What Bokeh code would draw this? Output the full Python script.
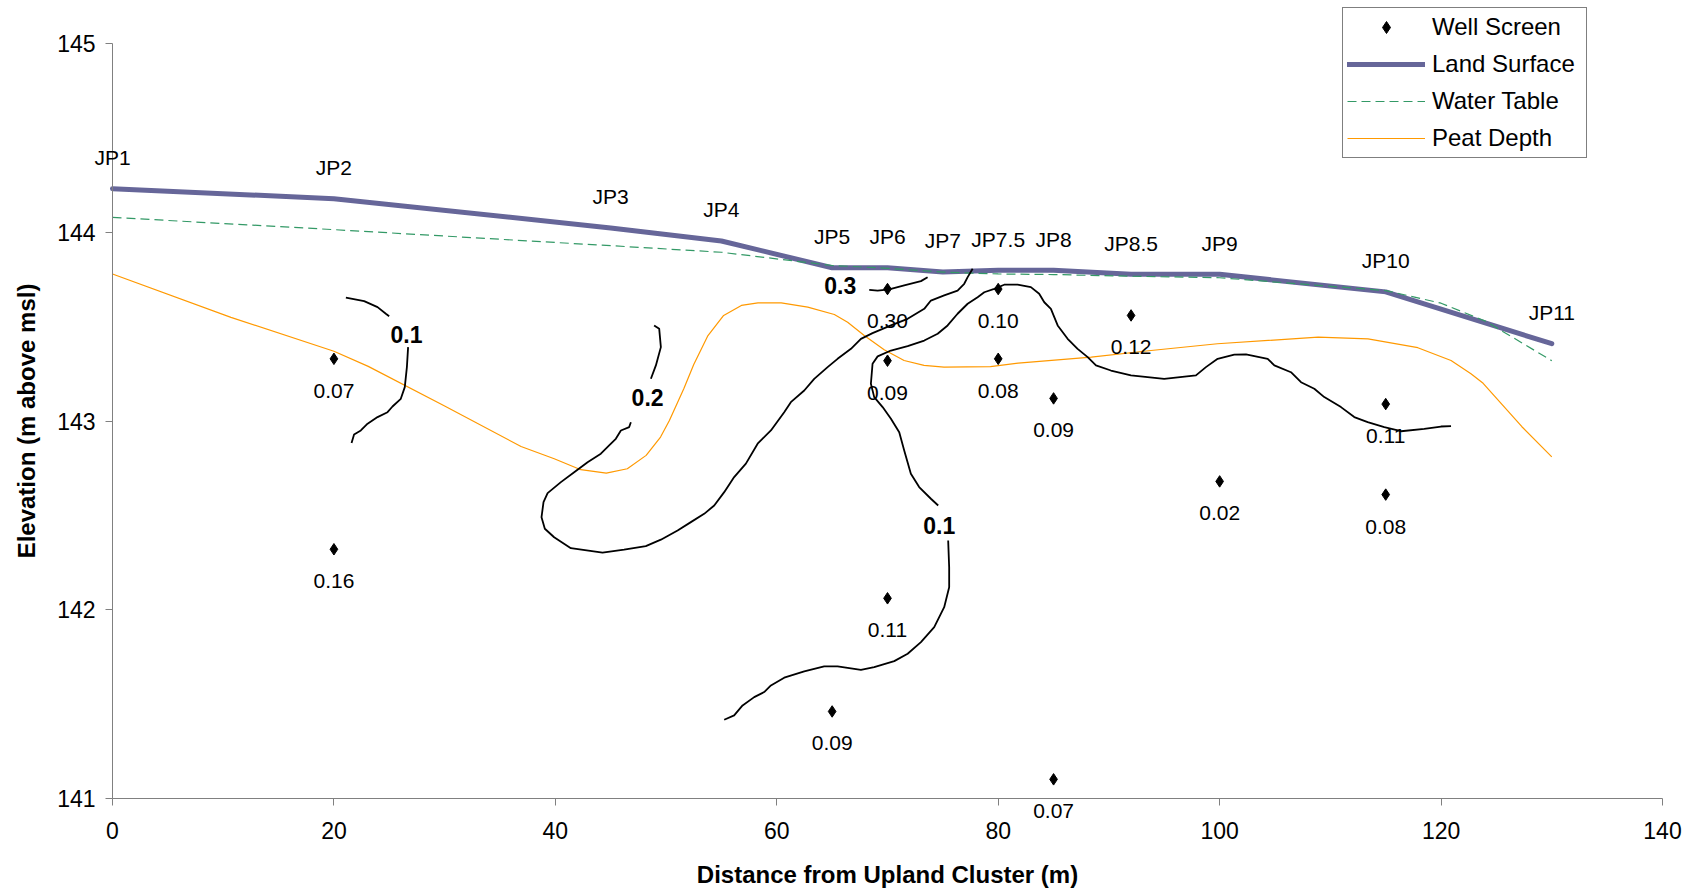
from bokeh.plotting import figure
from bokeh.models import (ColumnDataSource, LabelSet, Legend, LegendItem,
                          Range1d, FixedTicker)
from bokeh.core.properties import value
from bokeh.embed import file_html
from bokeh.resources import INLINE

FONT = "Liberation Sans"

# ---------------- data ----------------
x_ticks = [0, 20, 40, 60, 80, 100, 120, 140]
y_ticks = [141, 142, 143, 144, 145]

# Land surface (with piezometer nest names)
land_x = [0, 20, 45, 55, 65, 70, 75, 80, 85, 92, 100, 115, 130]
land_y = [144.232, 144.179, 144.024, 143.955, 143.813, 143.813, 143.791,
          143.800, 143.800, 143.778, 143.778, 143.685, 143.410]
land_names = ["JP1", "JP2", "JP3", "JP4", "JP5", "JP6", "JP7", "JP7.5",
              "JP8", "JP8.5", "JP9", "JP10", "JP11"]

# Water table
water_x = [0, 20, 45, 55, 65, 70, 75, 80, 85, 92, 100, 115, 120, 124, 130]
water_y = [144.08, 144.015, 143.93, 143.895, 143.825, 143.81, 143.79, 143.78,
           143.777, 143.768, 143.76, 143.692, 143.625, 143.53, 143.32]

# Peat depth
peat_x = [0, 10.7, 20, 23.1, 30, 36.9, 39.9, 42.3, 44.6, 46.5, 48.2, 49.5,
          50.3, 51.6, 52.5, 53.75, 55.2, 56.8, 58.3, 60.4, 62.8, 65.2, 66.4,
          67.9, 69.7, 71.5, 73.3, 75.1, 79.3, 81.8, 88.4, 93.8, 99.8, 108.9,
          113.4, 117.9, 120.9, 122.7, 123.8, 127.3, 130]
peat_y = [143.78, 143.55, 143.37, 143.29, 143.08, 142.865, 142.80, 142.742,
          142.724, 142.747, 142.818, 142.915, 143.003, 143.171, 143.30, 143.45,
          143.56, 143.613, 143.627, 143.627, 143.604, 143.565, 143.524, 143.454,
          143.378, 143.321, 143.295, 143.286, 143.289, 143.307, 143.339, 143.374,
          143.41, 143.445, 143.436, 143.389, 143.321, 143.251, 143.20, 142.97,
          142.81]

# Well screens and their values
well_x = [20, 20, 65, 70, 70, 70, 80, 80, 85, 85, 92, 100, 115, 115]
well_y = [143.33, 142.32, 141.46, 143.70, 143.32, 142.06, 143.70, 143.33,
          143.12, 141.10, 143.56, 142.68, 143.09, 142.61]
well_values = ["0.07", "0.16", "0.09", "0.30", "0.09", "0.11", "0.10", "0.08",
               "0.09", "0.07", "0.12", "0.02", "0.11", "0.08"]

# Contour 0.1 (left)
c01a_upper_x = [21.08, 22.73, 23.94, 24.69, 24.99]
c01a_upper_y = [143.654, 143.636, 143.604, 143.569, 143.556]
c01a_lower_x = [26.70, 26.59, 26.40, 26.04, 25.29, 24.84, 23.94, 23.04, 22.43,
                21.82, 21.59]
c01a_lower_y = [143.392, 143.286, 143.180, 143.118, 143.077, 143.047, 143.021,
                142.986, 142.950, 142.929, 142.883]

# Contour 0.2
c02_upper_x = [48.92, 49.38, 49.53, 49.08, 48.63]
c02_upper_y = [143.507, 143.489, 143.392, 143.295, 143.224]
c02_lower_x = [46.82, 46.67, 45.92, 45.46, 44.86, 44.11, 42.91, 41.70, 40.50,
               39.30, 38.93, 38.75, 39.05, 39.89, 41.40, 44.26, 46.21, 48.17,
               49.53, 51.04, 52.24, 53.44, 54.35, 55.25, 56.15, 57.21, 58.27,
               59.47, 60.67, 61.27, 62.48, 63.38, 64.59, 65.49, 66.70, 67.60,
               68.65, 70.31, 71.82, 73.32, 73.92, 75.12, 76.33, 76.93, 77.24,
               77.69]
c02_lower_y = [142.994, 142.968, 142.950, 142.906, 142.871, 142.827, 142.782,
               142.729, 142.676, 142.618, 142.570, 142.490, 142.429, 142.384,
               142.326, 142.302, 142.318, 142.337, 142.371, 142.420, 142.464,
               142.508, 142.552, 142.623, 142.703, 142.774, 142.880, 142.950,
               143.047, 143.100, 143.162, 143.224, 143.286, 143.330, 143.383,
               143.436, 143.466, 143.507, 143.542, 143.595, 143.639, 143.666,
               143.692, 143.728, 143.763, 143.808]

# Contour 0.3
c03_x = [68.35, 69.11, 70.15, 71.51, 73.02, 73.62]
c03_y = [143.696, 143.692, 143.698, 143.719, 143.742, 143.763]

# Contour 0.1 (middle / right)
c01b_lower_x = [55.25, 56.15, 56.91, 57.96, 58.86, 59.47, 60.67, 62.48, 64.28,
                65.49, 67.60, 68.80, 70.61, 71.82, 73.02, 74.22, 75.12, 75.57,
                75.57, 75.48]
c01b_lower_y = [141.416, 141.439, 141.492, 141.536, 141.563, 141.598, 141.639,
                141.672, 141.699, 141.699, 141.681, 141.695, 141.727, 141.766,
                141.828, 141.907, 142.013, 142.119, 142.225, 142.367]
c01b_upper_x = [74.58, 73.92, 72.86, 72.11, 71.51, 71.06, 70.31, 69.56, 68.80,
                68.50, 68.65, 69.11, 70.31, 71.82, 73.32, 74.53, 75.43, 76.33,
                77.24, 78.14, 78.74, 79.64, 80.54, 81.75, 82.95, 83.70, 84.16,
                84.76, 85.37, 86.27, 87.17, 88.08, 88.83, 90.18, 91.99, 94.99,
                97.86, 98.76, 99.82, 101.32, 102.38, 104.34, 104.94, 106.44,
                107.35, 108.55, 109.45, 110.96, 112.16, 113.37, 114.87, 116.38,
                118.48, 119.99, 120.90]
c01b_upper_y = [142.552, 142.588, 142.650, 142.721, 142.844, 142.941, 143.012,
                143.074, 143.127, 143.198, 143.304, 143.343, 143.374, 143.397,
                143.427, 143.463, 143.507, 143.569, 143.622, 143.657, 143.683,
                143.701, 143.723, 143.723, 143.710, 143.675, 143.630, 143.595,
                143.507, 143.436, 143.383, 143.339, 143.295, 143.268, 143.242,
                143.224, 143.242, 143.286, 143.330, 143.352, 143.353, 143.330,
                143.295, 143.259, 143.206, 143.171, 143.127, 143.074, 143.021,
                142.994, 142.968, 142.946, 142.959, 142.971, 142.973]

# Contour labels
contour_label_x = [26.56, 48.33, 65.73, 74.67]
contour_label_y = [143.459, 143.124, 143.719, 142.446]
contour_label_text = ["0.1", "0.2", "0.3", "0.1"]

# ---------------- layout (pixels) ----------------
W, H = 1700, 893
AX_LEFT, AX_RIGHT, AX_TOP, AX_BOTTOM = 112, 1662, 43.4, 797.7
X0, X1, Y0, Y1 = 0, 140, 141, 145
px_x = (AX_RIGHT - AX_LEFT) / (X1 - X0)
px_y = (AX_BOTTOM - AX_TOP) / (Y1 - Y0)

p = figure(width=W, height=H, output_backend="svg", toolbar_location=None,
           x_range=Range1d(X0 - AX_LEFT / px_x, X1 + (W - AX_RIGHT) / px_x),
           y_range=Range1d(Y0 - (H - AX_BOTTOM) / px_y, Y1 + AX_TOP / px_y),
           min_border=0, min_border_left=0, min_border_right=0,
           min_border_top=0, min_border_bottom=0)
p.grid.visible = False
p.outline_line_color = None
p.background_fill_color = "white"
p.border_fill_color = "white"

p.xaxis.ticker = FixedTicker(ticks=x_ticks)
p.yaxis.ticker = FixedTicker(ticks=y_ticks)
p.xaxis.axis_label = "Distance from Upland Cluster (m)"
p.yaxis.axis_label = "Elevation (m above msl)"
p.xaxis.fixed_location = Y0
p.yaxis.fixed_location = X0
p.xaxis.bounds = (X0, X1)
p.yaxis.bounds = (Y0, Y1)
for ax in (p.xaxis[0], p.yaxis[0]):
    ax.axis_label_text_font = FONT
    ax.axis_label_text_font_style = "bold"
    ax.axis_label_text_font_size = "24px"
    ax.axis_label_text_color = "black"
    ax.major_label_text_font = FONT
    ax.major_label_text_font_size = "23px"
    ax.major_label_text_color = "black"
    ax.axis_line_color = "#808080"
    ax.axis_line_width = 1
    ax.major_tick_line_color = "#808080"
    ax.major_tick_out = 7
    ax.major_tick_in = 0
    ax.minor_tick_line_color = None
p.xaxis.major_label_standoff = 17
p.xaxis.axis_label_standoff = 18
p.yaxis.major_label_standoff = 10
p.yaxis.axis_label_standoff = 14

r_land = p.line(land_x, land_y, line_width=5, line_color="#666699",
                line_join="round", line_cap="round")
r_water = p.line(water_x, water_y, line_width=1.2, line_color="#339966",
                 line_dash="9 5")
r_peat = p.line(peat_x, peat_y, line_width=1.2, line_color="#FF9900")

contour_pieces = [(c01a_upper_x, c01a_upper_y), (c01a_lower_x, c01a_lower_y),
                  (c02_upper_x, c02_upper_y), (c02_lower_x, c02_lower_y),
                  (c03_x, c03_y), (c01b_lower_x, c01b_lower_y),
                  (c01b_upper_x, c01b_upper_y)]
for cx, cy in contour_pieces:
    p.line(cx, cy, line_width=1.8, line_color="black", line_join="round")

r_well = p.scatter(well_x, well_y, marker="diamond", size=11.5, color="black")

# labels
land_src = ColumnDataSource(dict(x=land_x, y=land_y, t=land_names))
p.add_layout(LabelSet(x="x", y="y", text="t", source=land_src,
                      text_font=value(FONT), text_font_size="21px",
                      text_align="center", text_baseline="middle",
                      y_offset=31, text_color="black"))

well_src = ColumnDataSource(dict(x=well_x, y=well_y, t=well_values))
p.add_layout(LabelSet(x="x", y="y", text="t", source=well_src,
                      text_font=value(FONT), text_font_size="21px",
                      text_align="center", text_baseline="middle",
                      y_offset=-32, text_color="black"))

clab_src = ColumnDataSource(dict(x=contour_label_x, y=contour_label_y,
                                 t=contour_label_text))
p.add_layout(LabelSet(x="x", y="y", text="t", source=clab_src,
                      text_font=value(FONT), text_font_size="23px",
                      text_font_style="bold",
                      text_align="center", text_baseline="middle",
                      text_color="black"))

LEG_LEFT, LEG_BOTTOM = 1342, 158.3
legend = Legend(items=[LegendItem(label="Well Screen", renderers=[r_well]),
                       LegendItem(label="Land Surface", renderers=[r_land]),
                       LegendItem(label="Water Table", renderers=[r_water]),
                       LegendItem(label="Peat Depth", renderers=[r_peat])],
                location=(LEG_LEFT, H - LEG_BOTTOM))
legend.label_text_font = FONT
legend.label_text_font_size = "24px"
legend.label_text_color = "black"
legend.glyph_width = 78
legend.glyph_height = 30
legend.label_height = 30
legend.label_width = 150
legend.label_standoff = 7
legend.spacing = 7
legend.padding = 4
legend.margin = 0
legend.border_line_color = "black"
legend.border_line_width = 1
legend.background_fill_color = "white"
legend.background_fill_alpha = 1
p.add_layout(legend)

open("out.html", "w").write(file_html(p, INLINE))
